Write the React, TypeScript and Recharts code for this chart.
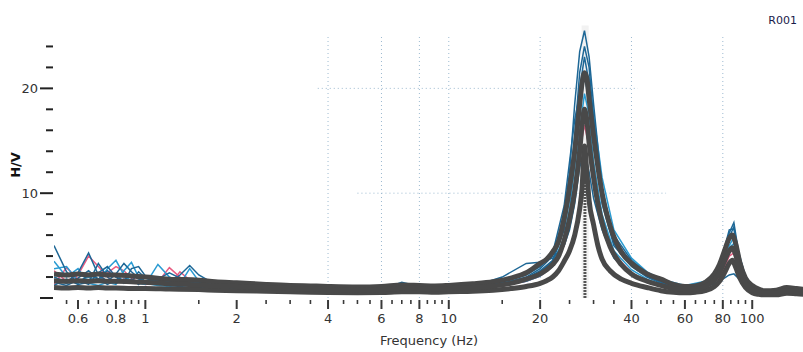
import React from 'react';
import { LineChart, Line, XAxis, YAxis, ReferenceLine, ReferenceArea } from 'recharts';

// Frequency grid for the average curve and its standard-deviation curves (Hz)
const F = [0.5,0.55,0.6,0.65,0.7,0.75,0.8,0.9,1,1.2,1.5,1.7,2,2.5,3,3.5,4,5,6,7,8,9,10,12,14,16,18,20,21,22,23,24,25,26,27,27.5,28,28.5,29,30,31,32,34,37,40,45,50,55,60,65,70,75,78,81,84,86,88,91,95,100,105,110,120,130,140,150];
const UPPER = [2.3,2.2,2.3,2.2,2.3,2.2,2.2,2.1,2.0,1.8,1.7,1.55,1.45,1.3,1.2,1.15,1.1,1.05,1.1,1.25,1.2,1.15,1.2,1.35,1.55,1.9,2.4,3.3,3.7,4.4,5.4,7.6,10.5,14.0,18.5,20.5,21.5,21.0,19.0,15.5,12.5,10.0,6.9,4.4,3.3,2.3,1.8,1.3,1.1,1.15,1.5,2.3,3.2,4.5,5.7,6.0,5.3,3.4,1.9,1.2,0.85,0.7,0.75,1.0,0.9,0.8];
const MEAN = [1.65,1.6,1.65,1.6,1.65,1.6,1.6,1.55,1.5,1.35,1.25,1.15,1.1,1.0,0.9,0.85,0.8,0.78,0.8,0.92,0.9,0.85,0.9,1.0,1.15,1.4,1.8,2.3,2.7,3.2,4.0,5.5,7.5,10.2,14.0,16.5,18.0,17.0,14.8,11.5,9.0,7.2,4.9,3.2,2.3,1.6,1.2,0.9,0.8,0.85,1.1,1.7,2.4,3.5,4.5,4.8,4.2,2.6,1.4,0.8,0.55,0.45,0.5,0.7,0.6,0.55];
const LOWER = [1.0,0.95,1.0,0.95,1.0,0.95,0.95,0.9,0.9,0.85,0.8,0.75,0.7,0.65,0.6,0.55,0.52,0.5,0.52,0.6,0.6,0.55,0.6,0.65,0.75,0.9,1.1,1.4,1.65,2.0,2.6,3.5,4.5,6.0,8.5,10.5,14.5,12.0,9.3,7.0,5.0,3.7,2.6,1.8,1.4,1.0,0.7,0.55,0.5,0.55,0.7,1.1,1.6,2.4,3.3,3.6,3.0,1.9,1.0,0.5,0.35,0.3,0.3,0.45,0.4,0.35];

// Frequency grid for individual windows (Hz)
const W_F = [0.5,0.55,0.6,0.65,0.7,0.75,0.8,0.85,0.9,0.95,1,1.1,1.2,1.3,1.4,1.5,1.7,2,2.5,3,4,5,6,7,8,10,12,15,18,20,22,24,25,26,27,28,29,30,32,35,40,45,50,60,70,78,84,87,90,95,100,110,130,150];
const B1 = [5.0,2.5,1.4,2.2,1.8,2.6,2.0,1.7,2.2,1.8,1.6,1.8,2.4,1.9,1.5,1.4,1.3,1.1,1.05,0.95,0.85,0.8,0.85,1.0,0.95,0.95,1.1,1.4,2.0,2.8,4.0,8.0,12.0,18.5,23.5,25.5,23.0,18.5,10.5,5.6,3.4,2.2,1.6,1.0,1.4,2.8,6.2,7.2,4.5,2.0,1.0,0.6,0.9,0.6];
const B2 = [2.0,1.5,2.4,4.3,2.2,1.6,2.3,3.3,2.5,1.9,1.5,1.4,1.6,1.4,1.3,1.5,1.2,1.0,0.9,0.9,0.85,0.8,0.8,1.2,1.0,0.9,1.05,1.3,1.8,2.5,3.5,6.5,9.5,14.0,20.0,23.0,20.5,15.5,9.0,5.0,3.0,2.0,1.4,0.9,1.3,2.5,5.5,6.0,3.8,1.7,0.9,0.5,0.8,0.5];
const B3 = [1.2,1.8,1.3,1.5,3.3,2.0,1.4,1.8,1.5,2.5,1.9,1.5,1.3,2.2,3.1,2.2,1.3,1.1,1.4,1.0,0.8,0.75,0.8,1.5,1.1,1.0,1.1,1.5,2.2,3.0,4.3,8.8,13.0,17.0,19.5,21.0,19.0,16.5,10.0,6.0,3.6,2.4,1.7,1.1,1.5,3.0,6.5,6.6,4.2,2.1,1.1,0.7,1.0,0.7];
const B4 = [2.8,3.0,1.6,2.0,1.5,2.8,3.6,2.2,1.6,1.4,1.3,3.2,2.0,1.5,1.2,1.1,1.0,0.9,0.8,0.75,0.7,0.7,0.7,0.9,0.85,0.8,0.95,1.2,1.6,2.1,3.0,5.2,7.5,11.0,16.0,19.5,17.5,13.0,8.0,4.5,2.7,1.8,1.3,0.85,1.2,2.2,4.8,5.2,3.4,1.5,0.8,0.45,0.7,0.5];
const B5 = [1.5,1.2,1.7,1.3,2.4,3.0,2.0,1.4,1.8,1.3,2.0,1.6,1.2,1.1,1.2,1.0,0.9,0.8,1.2,0.8,0.65,0.6,0.65,0.8,0.8,0.75,1.1,2.0,3.3,3.4,3.8,5.0,6.5,9.0,12.5,14.0,12.0,9.5,6.5,3.8,2.3,1.5,1.1,0.75,1.0,1.6,2.2,2.3,1.9,1.2,0.6,0.35,0.55,0.4];
const B6 = [3.5,2.0,2.8,1.4,1.2,1.5,1.3,2.6,3.4,2.0,1.4,1.2,1.1,1.3,2.8,1.6,1.1,0.9,0.8,0.85,0.75,0.7,0.75,0.95,0.9,0.85,1.0,1.3,1.7,2.3,3.3,5.8,8.5,12.5,17.5,21.5,21.0,17.5,11.5,6.5,3.8,2.5,1.8,1.2,1.6,2.6,5.0,5.8,4.0,2.0,1.0,0.6,0.9,0.6];
const B7 = [1.8,1.4,1.9,2.6,1.8,1.3,1.7,1.5,2.8,3.0,2.1,1.7,1.5,1.3,1.2,1.3,1.2,1.0,0.95,0.85,0.8,0.75,0.8,1.05,0.9,0.9,1.0,1.25,1.9,2.6,3.6,7.0,10.5,15.5,21.5,24.0,22.0,17.0,9.5,5.2,3.1,2.1,1.5,0.95,1.3,2.4,5.8,6.8,4.3,1.9,0.95,0.55,0.85,0.55];
const P1 = [2.6,1.6,2.2,4.0,3.0,2.0,1.5,1.8,1.6,1.4,1.6,1.5,2.9,2.0,1.4,1.3,1.6,1.3,1.1,0.9,0.85,0.8,0.8,0.95,0.9,0.9,1.0,1.2,1.7,2.3,3.2,5.5,7.5,10.5,14.5,17.5,15.0,11.5,7.0,4.2,2.4,1.6,1.2,0.8,1.1,2.0,4.3,4.6,3.0,1.4,0.8,0.45,0.7,0.55];
const P2 = [1.3,2.9,1.8,1.4,1.6,2.4,3.0,2.6,1.9,1.5,1.3,1.4,1.2,2.5,1.7,1.6,1.5,1.2,1.0,0.95,0.8,0.75,0.8,0.9,0.85,0.85,0.95,1.15,1.6,2.1,3.0,5.0,7.0,10.0,14.0,16.5,14.5,11.0,6.8,4.0,2.3,1.5,1.1,0.8,1.0,1.9,4.0,4.3,2.8,1.3,0.75,0.4,0.65,0.5];

const WINDOWS = [
  { values: P1, color: '#e85a80' },
  { values: P2, color: '#e85a80' },
  { values: B4, color: '#2a9bd2' },
  { values: B6, color: '#2a9bd2' },
  { values: B5, color: '#1d6796' },
  { values: B3, color: '#1d6796' },
  { values: B2, color: '#1d6796' },
  { values: B7, color: '#1d6796' },
  { values: B1, color: '#1d6796' },
];

const F0 = 28.1;
const X_TICKS = [0.55,0.6,0.65,0.7,0.75,0.8,0.85,0.9,0.95,1,1.5,2,2.5,3,3.5,4,4.5,5,5.5,6,6.5,7,7.5,8,8.5,9,9.5,10,15,20,25,30,35,40,45,50,55,60,65,70,75,80,85,90,95,100];
const X_LABELS = [0.6,0.8,1,2,4,6,8,10,20,40,60,80,100];
const Y_TICKS = [0,2,4,6,8,10,12,14,16,18,20,22,24];
const Y_LABELS = [10,20];
const GRID_X = [4,6,8,10,20,40,80];

const toRows = (xs: number[], ys: number[]) => xs.map((f, i) => ({ f, v: ys[i] }));

const PLOT_BOTTOM = 298;

const XTick = (p: any) => {
  const v = p.payload.value;
  const x = p.x;
  const major = X_LABELS.includes(v);
  return (
    <g>
      <line x1={x} x2={x} y1={PLOT_BOTTOM + 2} y2={PLOT_BOTTOM + (major ? 11 : 6)} stroke="#3a3a3a" strokeWidth={major ? 2 : 1.6} />
      {major ? (
        <text x={x} y={PLOT_BOTTOM + 25} textAnchor="middle" fontFamily="DejaVu Sans" fontSize={13} fill="#333">{String(v)}</text>
      ) : null}
    </g>
  );
};

const YTick = (p: any) => {
  const v = p.payload.value;
  const y = p.y;
  const major = v % 10 === 0;
  return (
    <g>
      <line x1={major ? 40 : 46} x2={53} y1={y} y2={y} stroke="#222" strokeWidth={2} />
      {Y_LABELS.includes(v) ? (
        <text x={38} y={y + 4.5} textAnchor="end" fontFamily="DejaVu Sans" fontSize={13} fill="#333">{String(v)}</text>
      ) : null}
    </g>
  );
};

export default function App() {
  const gray = '#494949';
  const gridColor = '#9dbad0';
  return (
    <div style={{ position: 'absolute', left: 0, top: 0, width: 803, height: 352, background: '#fff' }}>
      <LineChart width={803} height={352} margin={{ top: 15, right: 0, bottom: 0, left: 0 }}>
        <XAxis type="number" dataKey="f" scale="log" domain={[0.5, 147]} allowDataOverflow ticks={X_TICKS} interval={0}
          tick={XTick} tickLine={false} axisLine={false} height={54} tickSize={0} tickMargin={0} />
        <YAxis type="number" domain={[0, 27]} ticks={Y_TICKS} interval={0} tick={YTick} tickLine={false}
          axisLine={false} width={54} tickSize={0} tickMargin={0} allowDataOverflow />
        <ReferenceArea x1={27.4} x2={28.9} y1={0} y2={26} fill="#e6e6e6" fillOpacity={0.5} stroke="none" ifOverflow="hidden" />
        {GRID_X.map((g) => (
          <ReferenceLine key={'gx' + g} segment={[{ x: g, y: 0 }, { x: g, y: 25 }]} stroke={gridColor} strokeDasharray="1 3" strokeWidth={1} ifOverflow="hidden" />
        ))}
        <ReferenceLine segment={[{ x: 3.7, y: 20 }, { x: 42, y: 20 }]} stroke={gridColor} strokeDasharray="1 3" strokeWidth={1} ifOverflow="hidden" />
        <ReferenceLine segment={[{ x: 5, y: 10 }, { x: 52, y: 10 }]} stroke={gridColor} strokeDasharray="1 3" strokeWidth={1} ifOverflow="hidden" />
        <ReferenceLine segment={[{ x: F0, y: 0 }, { x: F0, y: 14 }]} stroke="#555" strokeDasharray="2 1" strokeWidth={3} ifOverflow="hidden" />
        {WINDOWS.map((w, i) => (
          <Line key={'w' + i} data={toRows(W_F, w.values)} dataKey="v" type="linear" stroke={w.color} strokeWidth={1.5}
            dot={false} activeDot={false} isAnimationActive={false} />
        ))}
        <Line data={toRows(F, LOWER)} dataKey="v" type="monotoneX" stroke={gray} strokeWidth={5} dot={false} activeDot={false} isAnimationActive={false} />
        <Line data={toRows(F, UPPER)} dataKey="v" type="monotoneX" stroke={gray} strokeWidth={5} dot={false} activeDot={false} isAnimationActive={false} />
        <Line data={toRows(F, MEAN)} dataKey="v" type="monotoneX" stroke={gray} strokeWidth={5} dot={false} activeDot={false} isAnimationActive={false} />
      </LineChart>
      <svg width={803} height={352} style={{ position: 'absolute', left: 0, top: 0, pointerEvents: 'none' }}>
        <text transform="translate(20,165) rotate(-90)" textAnchor="middle" fontFamily="DejaVu Sans" fontWeight="bold" fontSize={13} fill="#111">H/V</text>
        <text x={429} y={345} textAnchor="middle" fontFamily="DejaVu Sans" fontSize={13} fill="#333">Frequency (Hz)</text>
        <text x={797} y={24} textAnchor="end" fontFamily="DejaVu Sans" fontSize={11} fill="#1a1a4a">R001</text>
      </svg>
    </div>
  );
}
